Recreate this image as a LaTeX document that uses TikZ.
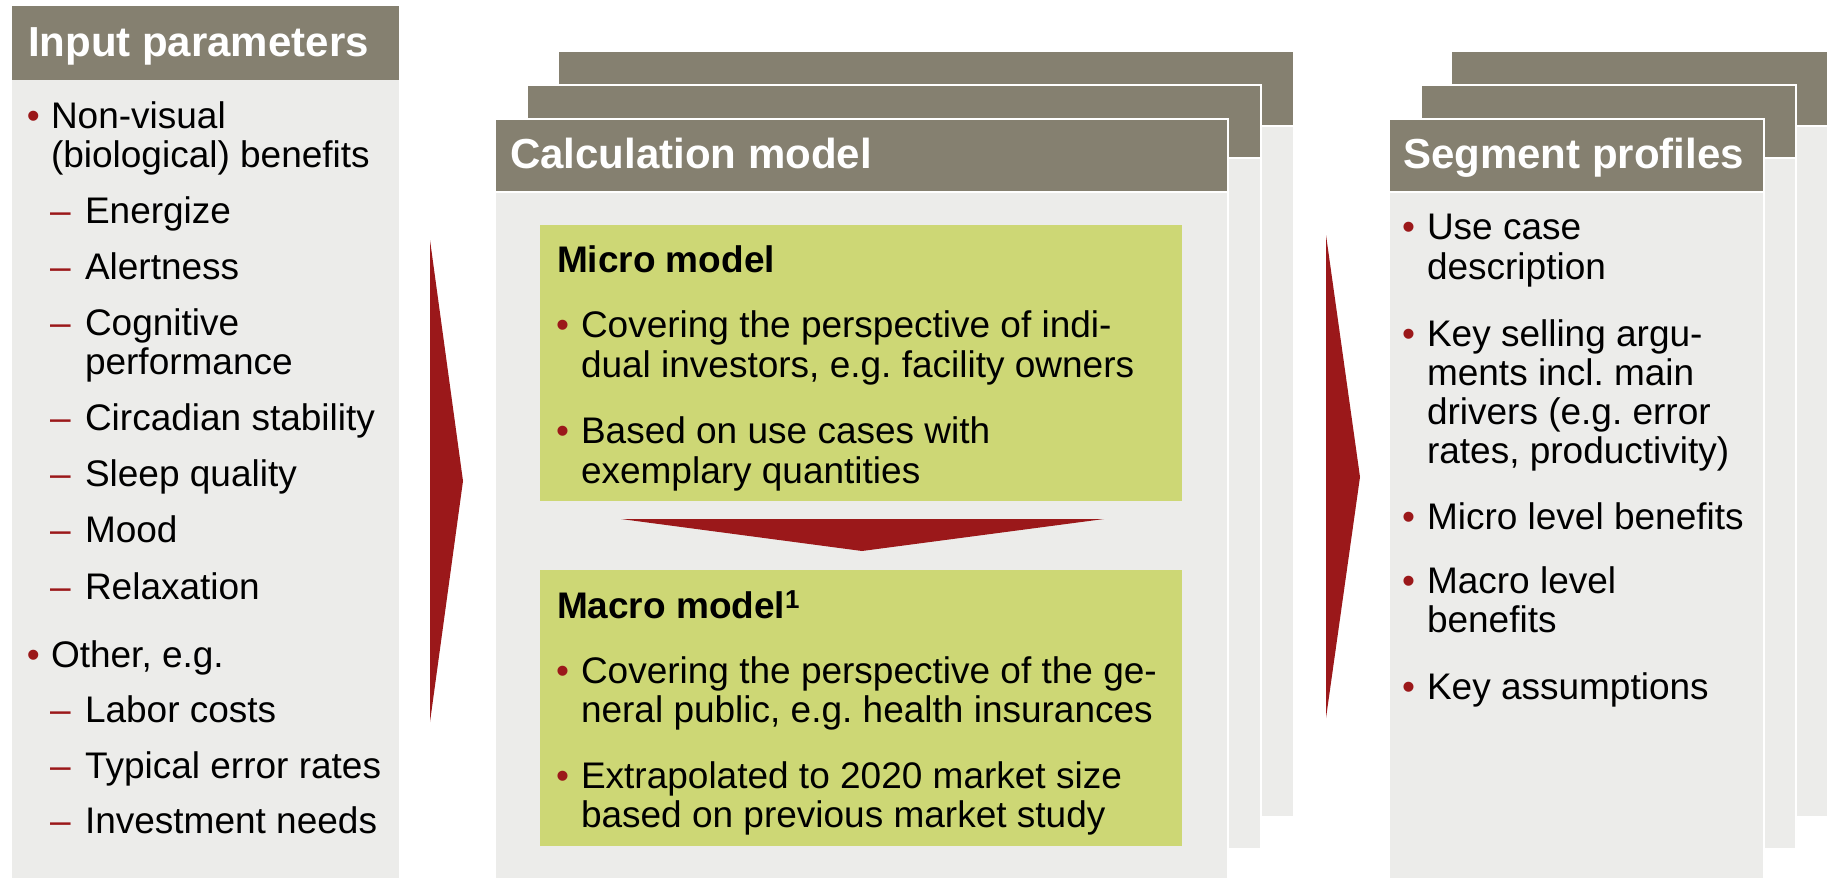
\documentclass[tikz,border=0pt]{standalone}
\usepackage{fontspec}
\setmainfont{Liberation Sans}
\frenchspacing
\definecolor{hdrc}{RGB}{133,128,112}
\definecolor{bodyc}{RGB}{236,236,234}
\definecolor{greenc}{RGB}{205,215,117}
\definecolor{redc}{RGB}{155,24,26}
\newcommand\mypanel[5]{%
  \fill[bodyc] (#1,#4) rectangle (#3,#5);
  \fill[hdrc] (#1,#2) rectangle (#3,#4);
  \draw[white,line width=2pt] (#1,#2) rectangle (#3,#5);
  \draw[white,line width=2pt] (#1,#4) -- (#3,#4);
}
\tikzset{
  txt/.style={anchor=base west,inner sep=0pt,outer sep=0pt,font=\fontsize{37}{40}\selectfont\frenchspacing},
  htxt/.style={anchor=base west,inner sep=0pt,outer sep=0pt,text=white,font=\fontsize{42}{44}\selectfont\bfseries},
  ttxt/.style={anchor=base west,inner sep=0pt,outer sep=0pt,font=\fontsize{37}{40}\selectfont\bfseries},
  mark1/.style={txt,text=redc},
  chevron/.style={fill=redc},
}
\begin{document}
\begin{tikzpicture}[x=1pt,y=-1pt]
\useasboundingbox (0,0) rectangle (1837,878);
% ---------- left panel
\fill[bodyc] (12,80) rectangle (399,878);
\fill[hdrc] (12,6) rectangle (399,80);
\node[htxt] (hin) at (28,56) {Input parameters};
\node[mark1] (lb1) at (27,128) {•};
\node[txt] (l1) at (51,128) {Non-visual};
\node[txt] (l1b) at (51,167) {(biological) benefits};
\node[mark1] (ld1) at (50,223) {–}; \node[txt] (l2) at (85,223) {Energize};
\node[mark1] (ld2) at (50,279) {–}; \node[txt] (l3) at (85,279) {Alertness};
\node[mark1] (ld3) at (50,335) {–}; \node[txt] (l4) at (85,335) {Cognitive};
\node[txt] (l4b) at (85,374) {performance};
\node[mark1] (ld4) at (50,430) {–}; \node[txt] (l5) at (85,430) {Circadian stability};
\node[mark1] (ld5) at (50,486) {–}; \node[txt] (l6) at (85,486) {Sleep quality};
\node[mark1] (ld6) at (50,542) {–}; \node[txt] (l7) at (85,542) {Mood};
\node[mark1] (ld7) at (50,599) {–}; \node[txt] (l8) at (85,599) {Relaxation};
\node[mark1] (lb2) at (27,667) {•};
\node[txt] (l9) at (51,667) {Other, e.g.};
\node[mark1] (ld8) at (50,722) {–}; \node[txt] (l10) at (85,722) {Labor costs};
\node[mark1] (ld9) at (50,778) {–}; \node[txt] (l11) at (85,778) {Typical error rates};
\node[mark1] (ld10) at (50,833) {–}; \node[txt] (l12) at (85,833) {Investment needs};
% ---------- arrows between panels
\fill[chevron] (430,240) -- (463,481) -- (430,722) -- cycle;
\fill[chevron] (1326,235) -- (1360,477) -- (1326,718) -- cycle;
% ---------- calculation model stack
\mypanel{558}{51}{1294}{126}{817}
\mypanel{527}{85}{1261}{158}{849}
\mypanel{495}{119}{1228}{192}{880}
\node[htxt] (hcalc) at (510,168) {Calculation model};
\fill[greenc] (540,225) rectangle (1182,501);
\fill[greenc] (540,570) rectangle (1182,846);
\node[ttxt] (mic) at (557,272) {Micro model};
\node[mark1] (mb1) at (556,337) {•};
\node[txt] (m1) at (581,337) {Covering the perspective of indi-};
\node[txt] (m1b) at (581,377) {dual investors, e.g. facility owners};
\node[mark1] (mb2) at (556,443) {•};
\node[txt] (m2) at (581,443) {Based on use cases with};
\node[txt] (m2b) at (581,483) {exemplary quantities};
\fill[chevron] (621,519) -- (1104,519) -- (862,551) -- cycle;
\node[ttxt] (mac) at (557,618) {Macro model\textsuperscript{1}};
\node[mark1] (ab1) at (556,683) {•};
\node[txt] (a1) at (581,683) {Covering the perspective of the ge-};
\node[txt] (a1b) at (581,722) {neral public, e.g. health insurances};
\node[mark1] (ab2) at (556,788) {•};
\node[txt] (a2) at (581,788) {Extrapolated to 2020 market size};
\node[txt] (a2b) at (581,827) {based on previous market study};
% ---------- segment profiles stack
\mypanel{1451}{51}{1828}{126}{817}
\mypanel{1421}{85}{1796}{158}{849}
\mypanel{1389}{119}{1764}{192}{880}
\node[htxt] (hseg) at (1403,168) {Segment profiles};
\node[mark1] (sb1) at (1402,239) {•};
\node[txt] (s1) at (1427,239) {Use case};
\node[txt] (s1b) at (1427,279) {description};
\node[mark1] (sb2) at (1402,346) {•};
\node[txt] (s2) at (1427,346) {Key selling argu-};
\node[txt] (s2b) at (1427,385) {ments incl. main};
\node[txt] (s2c) at (1427,424) {drivers (e.g. error};
\node[txt] (s2d) at (1427,463) {rates, productivity)};
\node[mark1] (sb3) at (1402,529) {•};
\node[txt] (s3) at (1427,529) {Micro level benefits};
\node[mark1] (sb4) at (1402,593) {•};
\node[txt] (s4) at (1427,593) {Macro level};
\node[txt] (s4b) at (1427,632) {benefits};
\node[mark1] (sb5) at (1402,699) {•};
\node[txt] (s5) at (1427,699) {Key assumptions};
\end{tikzpicture}
\end{document}
